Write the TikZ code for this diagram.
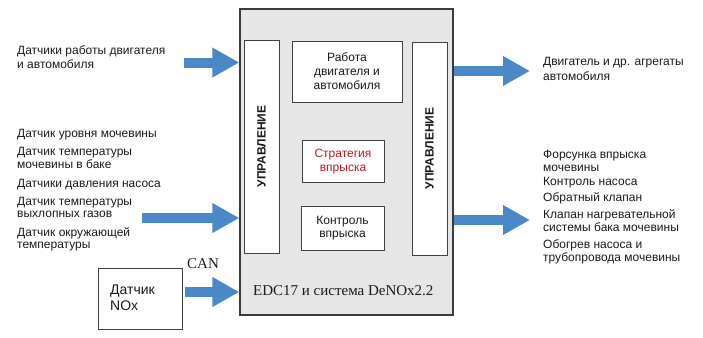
\documentclass[tikz,border=0pt]{standalone}
\usepackage{fontspec}
\setmainfont{Liberation Sans}
\newfontfamily\serifrm{Liberation Serif}
\usetikzlibrary{arrows.meta}
\definecolor{arrowblue}{HTML}{4A88C7}
\definecolor{boxgray}{HTML}{E6E6E6}
\definecolor{edge}{HTML}{404040}
\definecolor{stratred}{HTML}{C0171E}
\definecolor{ink}{HTML}{1A1A1A}
\tikzset{
  ln/.style={font=\fontsize{12}{14}\selectfont, text=ink, inner sep=0pt, anchor=base west},
  inbox/.style={draw=edge, line width=0.8pt, fill=white, align=center, text=ink, font=\fontsize{12}{14}\selectfont, inner sep=0pt},
  ubox/.style={draw=edge, line width=0.8pt, fill=white, minimum width=35pt, minimum height=213pt, inner sep=0pt},
  ulbl/.style={rotate=90, text=ink, font=\bfseries\fontsize{12}{14}\selectfont, inner sep=0pt},
  fatarrow/.style={draw=arrowblue, line width=10pt, -{Triangle[width=28pt,length=27pt]}, arrowblue}
}
\begin{document}
\begin{tikzpicture}[x=1pt,y=-1pt]
\useasboundingbox (0,0) rectangle (703,337);
% main block
\node[draw=edge!90!black, line width=1.3pt, fill=boxgray, minimum width=213pt, minimum height=306pt, inner sep=0pt] (main) at (346.5,162) {};
\node[ubox] (uleft) at (261.5,146.5) {};
\node[ulbl] (uleftlbl) at (uleft.center) {УПРАВЛЕНИЕ};
\node[ubox] (uright) at (429.5,148.5) {};
\node[ulbl] (urightlbl) at (uright.center) {УПРАВЛЕНИЕ};
\node[inbox, minimum width=110pt, minimum height=61pt] (work) at (347,71.5) {Работа\\двигателя и\\автомобиля};
\node[inbox, minimum width=82pt, minimum height=42pt, text=stratred, font=\fontsize{12}{13.5}\selectfont] (strat) at (343,161.5) {Стратегия\\впрыска};
\node[inbox, minimum width=83pt, minimum height=44pt, font=\fontsize{12}{13.5}\selectfont] (ctrl) at (342.5,228) {Контроль\\впрыска};
\node[anchor=base west, inner sep=0pt, text=ink, font=\serifrm\fontsize{15}{17}\selectfont] (edc) at (253,295) {EDC17 и система DeNOx2.2};

% NOx sensor
\node[draw=edge, line width=0.8pt, fill=white, minimum width=84pt, minimum height=61pt, inner sep=0pt] (nox) at (140,298.5) {};
\node[ln, font=\fontsize{14}{16}\selectfont] (noxa) at (110,294.5) {Датчик};
\node[ln, font=\fontsize{14}{16}\selectfont] (noxb) at (110,310) {NOx};
\node[anchor=base west, inner sep=0pt, text=ink, font=\serifrm\fontsize{15}{17}\selectfont] (can) at (187,268) {CAN};

% left texts
\node[ln] (in1a) at (17,55) {Датчики работы двигателя};
\node[ln] (in1b) at (17,68.5) {и автомобиля};
\node[ln] (s1) at (17,137.5) {Датчик уровня мочевины};
\node[ln] (s2a) at (17,155) {Датчик температуры};
\node[ln] (s2b) at (17,168) {мочевины в баке};
\node[ln] (s3) at (17,187) {Датчики давления насоса};
\node[ln] (s4a) at (17,205) {Датчик температуры};
\node[ln] (s4b) at (17,217.5) {выхлопных газов};
\node[ln] (s5a) at (17,236) {Датчик окружающей};
\node[ln] (s5b) at (17,248.5) {температуры};

% right texts
\node[ln] (out1a) at (543,66) {Двигатель и др. агрегаты};
\node[ln] (out1b) at (543,80) {автомобиля};
\node[ln] (o1a) at (543,158) {Форсунка впрыска};
\node[ln] (o1b) at (543,171) {мочевины};
\node[ln] (o2) at (543,185.5) {Контроль насоса};
\node[ln] (o3) at (543,201.5) {Обратный клапан};
\node[ln] (o4a) at (543,218.5) {Клапан нагревательной};
\node[ln] (o4b) at (543,231) {системы бака мочевины};
\node[ln] (o5a) at (543,248.5) {Обогрев насоса и};
\node[ln] (o5b) at (543,261) {трубопровода мочевины};

% arrows
\coordinate (a1s) at (184,62.5);
\coordinate (a2s) at (142,218);
\coordinate (a3y) at (0,292);
\coordinate (b1e) at (530,71);
\coordinate (b2e) at (530,220);
\draw[fatarrow] (a1s) -- (main.west |- a1s);
\draw[fatarrow] (a2s) -- (main.west |- a2s);
\draw[fatarrow] ([xshift=3pt]nox.east |- a3y) -- (main.west |- a3y);
\draw[fatarrow] (main.east |- b1e) -- (b1e);
\draw[fatarrow] (main.east |- b2e) -- (b2e);
\end{tikzpicture}
\end{document}
